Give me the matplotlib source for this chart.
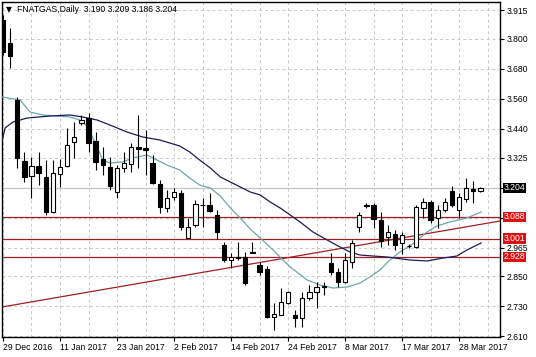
import matplotlib
matplotlib.use('Agg')
import matplotlib.pyplot as plt

plt.rcParams['font.family'] = ['Liberation Sans', 'DejaVu Sans']

# OHLC, one entry per daily bar (bar index 0 = 29 Dec 2016)
opens = [3.875, 3.783, 3.555, 3.311, 3.251, 3.291, 3.247, 3.107, 3.259, 3.291,
         3.387, 3.463, 3.483, 3.391, 3.319, 3.287, 3.187, 3.283, 3.299, 3.367,
         3.363, 3.303, 3.219, 3.123, 3.167, 3.183, 3.003, 3.055, 3.135, 3.135,
         3.095, 2.975, 2.915, 2.927, 2.927, 2.947, 2.895, 2.879, 2.687, 2.695,
         2.743, 2.695, 2.683, 2.763, 2.787, 2.811, 2.903, 2.867, 2.827, 2.907,
         3.047, 3.135, 3.135, 3.075, 3.007, 3.019, 2.983, 2.971, 2.967, 3.123,
         3.147, 3.083, 3.115, 3.191, 3.115, 3.159, 3.199, 3.190]
highs = [3.895, 3.843, 3.567, 3.347, 3.327, 3.347, 3.315, 3.315, 3.319, 3.443,
         3.467, 3.495, 3.503, 3.427, 3.367, 3.327, 3.295, 3.347, 3.383, 3.495,
         3.435, 3.335, 3.235, 3.195, 3.203, 3.195, 3.083, 3.155, 3.163, 3.183,
         3.115, 2.987, 2.943, 2.987, 2.947, 2.987, 2.907, 2.891, 2.743, 2.803,
         2.791, 2.715, 2.787, 2.815, 2.827, 2.827, 2.943, 2.883, 2.943, 2.995,
         3.107, 3.143, 3.143, 3.107, 3.055, 3.035, 3.027, 2.979, 3.135, 3.163,
         3.155, 3.135, 3.163, 3.211, 3.183, 3.243, 3.231, 3.209]
lows = [3.735, 3.683, 3.283, 3.227, 3.163, 3.215, 3.095, 3.103, 3.207, 3.287,
        3.323, 3.455, 3.347, 3.275, 3.255, 3.195, 3.163, 3.267, 3.267, 3.283,
        3.255, 3.219, 3.103, 3.107, 3.155, 3.035, 3.003, 3.047, 3.047, 3.107,
        2.999, 2.907, 2.883, 2.915, 2.815, 2.943, 2.855, 2.683, 2.635, 2.695,
        2.739, 2.647, 2.647, 2.755, 2.723, 2.775, 2.855, 2.807, 2.823, 2.883,
        3.027, 3.123, 3.043, 2.967, 2.975, 2.955, 2.939, 2.963, 2.963, 3.083,
        3.063, 3.043, 3.107, 3.127, 3.083, 3.147, 3.143, 3.186]
closes = [3.747, 3.731, 3.323, 3.247, 3.291, 3.263, 3.107, 3.263, 3.287, 3.375,
          3.407, 3.475, 3.383, 3.307, 3.295, 3.211, 3.283, 3.303, 3.367, 3.359,
          3.355, 3.223, 3.127, 3.163, 3.187, 3.047, 3.047, 3.139, 3.137, 3.111,
          3.027, 2.915, 2.927, 2.925, 2.823, 2.945, 2.867, 2.687, 2.699, 2.747,
          2.787, 2.683, 2.763, 2.787, 2.807, 2.809, 2.867, 2.827, 2.915, 2.983,
          3.095, 3.133, 3.079, 2.991, 3.027, 2.975, 3.015, 2.971, 3.127, 3.147,
          3.075, 3.115, 3.147, 3.135, 3.167, 3.203, 3.191, 3.204]

# moving averages (bar position, price)
ma_fast_x = [-0.1, 2.4, 3.8, 5.6, 9.4, 10.8, 11.9, 13.2, 14.0, 15.0, 16.8, 18.2,
             20.2, 21.6, 23.0, 24.8, 26.2, 27.6, 29.1, 30.5, 31.9, 33.3, 34.7,
             36.1, 37.9, 40.3, 42.7, 44.5, 46.3, 48.3, 50.1, 51.5, 52.9, 54.3,
             55.7, 57.5, 59.5, 60.9, 62.7, 65.1, 67.1]
ma_fast_y = [3.567, 3.555, 3.507, 3.495, 3.487, 3.475, 3.447, 3.367, 3.315, 3.303,
             3.307, 3.323, 3.335, 3.315, 3.295, 3.275, 3.243, 3.215, 3.203, 3.171,
             3.123, 3.083, 3.039, 3.003, 2.955, 2.887, 2.835, 2.815, 2.803, 2.807,
             2.823, 2.847, 2.875, 2.915, 2.947, 2.979, 3.027, 3.051, 3.067, 3.083,
             3.107]
ma_slow_x = [-0.1, 0.3, 1.4, 3.4, 6.6, 9.4, 11.2, 13.2, 15.0, 17.4, 19.6, 22.0,
             24.8, 26.2, 27.6, 29.1, 30.5, 31.9, 33.3, 34.7, 36.1, 37.5, 38.9,
             40.3, 41.7, 43.5, 45.5, 47.3, 48.7, 50.1, 51.9, 53.9, 57.1, 59.5,
             61.8, 63.7, 65.1, 67.1]
ma_slow_y = [3.395, 3.443, 3.467, 3.483, 3.491, 3.495, 3.487, 3.475, 3.455, 3.427,
             3.407, 3.395, 3.371, 3.347, 3.315, 3.283, 3.247, 3.227, 3.207, 3.187,
             3.175, 3.147, 3.123, 3.095, 3.067, 3.027, 2.995, 2.967, 2.947, 2.935,
             2.931, 2.927, 2.915, 2.911, 2.923, 2.931, 2.955, 2.983]

# support / resistance levels and trend line
levels = [3.088, 3.001, 2.928]
trend_x = [-0.14, 69.75]
trend_y = [2.727, 3.071]

y_ticks = [3.915, 3.800, 3.680, 3.560, 3.440, 3.325, 3.205, 3.085,
           2.965, 2.850, 2.730, 2.610]
y_labels = ['3.915', '3.800', '3.680', '3.560', '3.440', '3.325', '', '',
            '2.965', '2.850', '2.730', '2.610']   # two are hidden under price boxes
date_pos = [0, 8, 16, 24, 32, 40, 48, 56, 64]
date_labels = ['29 Dec 2016', '11 Jan 2017', '23 Jan 2017', '2 Feb 2017',
               '14 Feb 2017', '24 Feb 2017', '8 Mar 2017', '17 Mar 2017',
               '28 Mar 2017']
grid_pos = list(range(0, 69, 4))

line_red = '#9e1f24'
label_red = '#dd1010'

fig = plt.figure(figsize=(5.36, 3.57), dpi=100)
ax = fig.add_axes([2 / 536, 20 / 357, 498 / 536, 335 / 357])

# candles
for i in range(len(opens)):
    o, h, l, c = opens[i], highs[i], lows[i], closes[i]
    ax.vlines(i, l, h, color='black', lw=0.8, zorder=4)
    fc = 'white' if c >= o else 'black'
    ax.bar(i, abs(c - o), bottom=min(o, c), width=0.6, facecolor=fc,
           edgecolor='black', lw=0.8, zorder=5)

ax.plot(ma_fast_x, ma_fast_y, color='#6ea7ae', lw=0.9, zorder=3)
ax.plot(ma_slow_x, ma_slow_y, color='#1c1c5a', lw=0.9, zorder=3)

for lv in levels:
    ax.axhline(lv, color=line_red, lw=0.9, zorder=2)
ax.plot(trend_x, trend_y, color=line_red, lw=0.9, zorder=2)

# bid line
ax.axhline(closes[-1], color='#c4c4c4', lw=0.9, zorder=1)

ax.set_xlim(-0.14, 69.75)
ax.set_ylim(2.607, 3.947)

ax.set_xticks(date_pos)
ax.set_xticklabels(date_labels, ha='left')
ax.set_xticks(grid_pos, minor=True)
ax.set_yticks(y_ticks)
ax.set_yticklabels(y_labels)
ax.yaxis.tick_right()
ax.tick_params(axis='x', which='major', length=3, width=0.8, pad=1.5,
               labelsize=6.2, direction='out')
ax.tick_params(axis='x', which='minor', length=0)
ax.tick_params(axis='y', length=3, width=0.8, pad=2, labelsize=6.2)

ax.grid(True, which='both', axis='x', color='#c8c8c8', lw=0.7,
        linestyle=(0, (3, 3)), zorder=0)
ax.grid(True, which='major', axis='y', color='#c8c8c8', lw=0.7,
        linestyle=(0, (3, 3)), zorder=0)
ax.set_axisbelow(True)
for sp in ax.spines.values():
    sp.set_color('black')
    sp.set_linewidth(1.0)

# price labels on the right axis
for lv in levels:
    ax.annotate('%.3f' % lv, xy=(1.007, lv), xycoords=('axes fraction', 'data'),
                ha='left', va='center', fontsize=6.2, color='white',
                bbox=dict(boxstyle='square,pad=0.08', fc=label_red, ec='none'),
                annotation_clip=False, zorder=10)
ax.annotate('%.3f' % closes[-1], xy=(1.007, closes[-1]),
            xycoords=('axes fraction', 'data'), ha='left', va='center',
            fontsize=6.2, color='white',
            bbox=dict(boxstyle='square,pad=0.08', fc='black', ec='none'),
            annotation_clip=False, zorder=10)

# chart header
fig.text(6 / 536, 1 - 10 / 357, '\u25bc', fontsize=5.5, va='center', ha='left',
         family=['DejaVu Sans'])
fig.text(17 / 536, 1 - 10 / 357,
         'FNATGAS,Daily  %.3f %.3f %.3f %.3f' % (opens[-1], highs[-1],
                                                  lows[-1], closes[-1]),
         fontsize=6.2, va='center', ha='left')

fig.savefig('out.png', dpi=100)
